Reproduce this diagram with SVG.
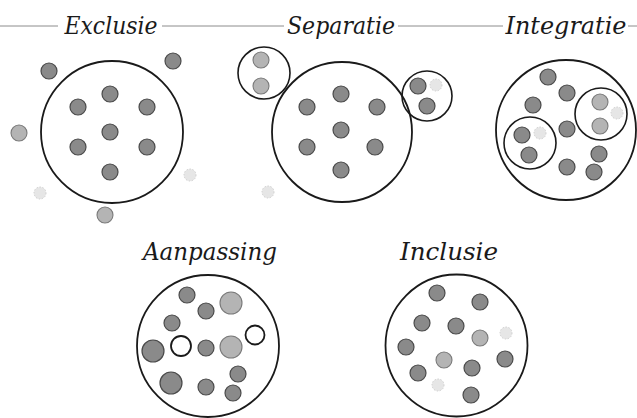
<svg xmlns="http://www.w3.org/2000/svg" width="637" height="418" viewBox="0 0 637 418">
<style>
.t{font-family:"DejaVu Serif","Liberation Serif",serif;font-style:italic;font-size:24px;fill:#1a1a1a;text-anchor:middle}
.rule{stroke:#8c8c8c;stroke-width:1;fill:none}
.big{fill:none;stroke:#1a1a1a;stroke-width:1.8}
.sm{fill:none;stroke:#1a1a1a;stroke-width:1.6}
.d{fill:#8a8a8a;stroke:#4a4a4a;stroke-width:1.2}
.l{fill:#b4b4b4;stroke:#7a7a7a;stroke-width:1.1}
.f{fill:#e6e6e6;stroke:#cfcfcf;stroke-width:1;stroke-dasharray:1.5 1.5}
.w{fill:#fff;stroke:#1a1a1a;stroke-width:1.8}
</style>
<rect width="637" height="418" fill="#fff"/>
<g id="connectors">
<path class="rule" d="M0 26H58M162 26H284M398 26H503M628 26H637"/>
</g>
<g id="exclusie">
<text class="t" x="111" y="34" textLength="93" lengthAdjust="spacingAndGlyphs">Exclusie</text>
<circle class="big" cx="112" cy="132" r="71"/>
<circle class="d" cx="110" cy="94" r="8"/>
<circle class="d" cx="78" cy="107" r="8"/>
<circle class="d" cx="147" cy="107" r="8"/>
<circle class="d" cx="110" cy="132" r="8"/>
<circle class="d" cx="78" cy="147" r="8"/>
<circle class="d" cx="147" cy="147" r="8"/>
<circle class="d" cx="110" cy="172" r="8"/>
<circle class="d" cx="49" cy="71" r="8"/>
<circle class="d" cx="173" cy="61" r="8"/>
<circle class="l" cx="19" cy="133" r="8"/>
<circle class="l" cx="105" cy="215" r="8"/>
<circle class="f" cx="40" cy="193" r="6"/>
<circle class="f" cx="190" cy="175" r="6"/>
</g>
<g id="separatie">
<text class="t" x="341" y="34" textLength="108" lengthAdjust="spacingAndGlyphs">Separatie</text>
<circle class="big" cx="342" cy="132" r="70"/>
<circle class="sm" cx="264" cy="73" r="26"/>
<circle class="sm" cx="427" cy="96" r="25"/>
<circle class="d" cx="341" cy="94" r="8"/>
<circle class="d" cx="307" cy="107" r="8"/>
<circle class="d" cx="377" cy="107" r="8"/>
<circle class="d" cx="341" cy="130" r="8"/>
<circle class="d" cx="307" cy="147" r="8"/>
<circle class="d" cx="375" cy="147" r="8"/>
<circle class="d" cx="341" cy="170" r="8"/>
<circle class="l" cx="261" cy="60" r="8"/>
<circle class="l" cx="261" cy="86" r="8"/>
<circle class="d" cx="418" cy="86" r="8"/>
<circle class="d" cx="427" cy="106" r="8"/>
<circle class="f" cx="436" cy="85" r="6"/>
<circle class="f" cx="268" cy="192" r="6"/>
</g>
<g id="integratie">
<text class="t" x="566" y="34" textLength="121" lengthAdjust="spacingAndGlyphs">Integratie</text>
<circle class="big" cx="566" cy="130" r="70"/>
<circle class="sm" cx="530" cy="143" r="26"/>
<circle class="sm" cx="601" cy="114" r="26"/>
<circle class="d" cx="548" cy="77" r="8"/>
<circle class="d" cx="567" cy="93" r="8"/>
<circle class="d" cx="533" cy="105" r="8"/>
<circle class="d" cx="567" cy="129" r="8"/>
<circle class="d" cx="522" cy="135" r="8"/>
<circle class="d" cx="529" cy="155" r="8"/>
<circle class="f" cx="540" cy="133" r="6"/>
<circle class="d" cx="599" cy="154" r="8"/>
<circle class="d" cx="567" cy="167" r="8"/>
<circle class="d" cx="594" cy="172" r="8"/>
<circle class="l" cx="600" cy="102" r="8"/>
<circle class="l" cx="600" cy="126" r="8"/>
<circle class="f" cx="617" cy="113" r="6"/>
</g>
<g id="aanpassing">
<text class="t" x="210" y="260" textLength="134" lengthAdjust="spacingAndGlyphs">Aanpassing</text>
<circle class="big" cx="208" cy="346" r="71"/>
<circle class="d" cx="187" cy="295" r="8"/>
<circle class="d" cx="206" cy="311" r="8"/>
<circle class="l" cx="231" cy="303" r="11"/>
<circle class="d" cx="172" cy="323" r="8"/>
<circle class="w" cx="255" cy="335" r="9.5"/>
<circle class="w" cx="181" cy="346" r="10"/>
<circle class="d" cx="206" cy="348" r="8"/>
<circle class="l" cx="231" cy="347" r="11"/>
<circle class="d" cx="153" cy="351" r="11"/>
<circle class="d" cx="238" cy="374" r="8"/>
<circle class="d" cx="171" cy="383" r="11"/>
<circle class="d" cx="206" cy="387" r="8"/>
<circle class="d" cx="233" cy="393" r="8"/>
</g>
<g id="inclusie">
<text class="t" x="449" y="260" textLength="98" lengthAdjust="spacingAndGlyphs">Inclusie</text>
<circle class="big" cx="456.5" cy="345.5" r="71"/>
<circle class="d" cx="437" cy="293" r="8"/>
<circle class="d" cx="480" cy="302" r="8"/>
<circle class="d" cx="422" cy="323" r="8"/>
<circle class="d" cx="456" cy="326" r="8"/>
<circle class="l" cx="480" cy="338" r="8"/>
<circle class="f" cx="506" cy="333" r="6"/>
<circle class="d" cx="406" cy="347" r="8"/>
<circle class="l" cx="444" cy="360" r="8"/>
<circle class="d" cx="505" cy="359" r="8"/>
<circle class="d" cx="472" cy="368" r="8"/>
<circle class="d" cx="418" cy="373" r="8"/>
<circle class="f" cx="438" cy="385" r="6"/>
<circle class="d" cx="471" cy="395" r="8"/>
</g>
</svg>
